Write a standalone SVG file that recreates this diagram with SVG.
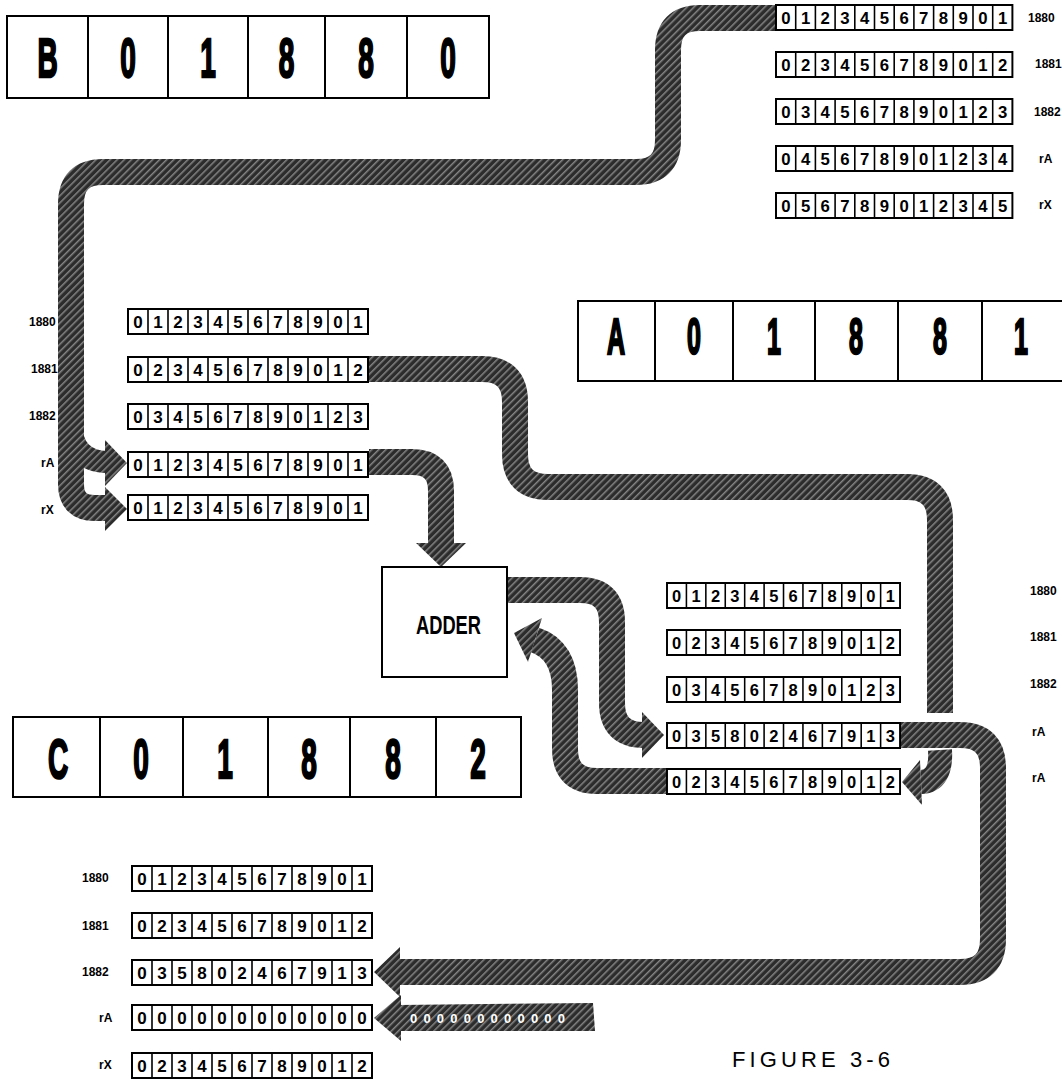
<svg xmlns="http://www.w3.org/2000/svg" width="1062" height="1079" viewBox="0 0 1062 1079">
<style>
.band{fill:none;stroke:url(#h);stroke-width:26}
.ah{fill:url(#h)}
.big{font-family:"Liberation Sans",Arial,sans-serif;font-weight:bold;font-size:56px;text-anchor:middle;stroke:#000;stroke-width:2.5}
.bx{fill:#fff;stroke:#000;stroke-width:2}
.dv{fill:none;stroke:#000;stroke-width:1.6}
.d{font-family:"Liberation Sans",Arial,sans-serif;font-weight:bold;font-size:17px;text-anchor:middle}
.lbl{font-family:"Liberation Sans",Arial,sans-serif;font-weight:bold;font-size:12px}
</style>
<defs>
<pattern id="h" width="5" height="5" patternUnits="userSpaceOnUse" patternTransform="rotate(45)">
<rect width="5" height="5" fill="#2c2c2c"/><rect width="1.5" height="5" fill="#858585"/>
</pattern>
<g id="reg"><rect class="bx" width="240" height="25"/><path class="dv" d="M20 0V25M40 0V25M60 0V25M80 0V25M100 0V25M120 0V25M140 0V25M160 0V25M180 0V25M200 0V25M220 0V25"/></g>
</defs>
<rect width="1062" height="1079" fill="#fff"/>

<g id="connectors">
<path class="band" d="M776,18 H700 Q668,18 668,50 V140 Q668,172 636,172 H103 Q71,172 71,204 V484 Q71,508 95,508 H107"/>
<path class="band" style="stroke-width:22" d="M71,425 Q73,461 107,462"/>
<polygon class="ah" points="105,440 127,463 105,486"/>
<polygon class="ah" points="105,487 127,509 105,531"/>
<path class="band" d="M369,462 H412 Q441,462 441,491 V545"/>
<polygon class="ah" points="416,543 466,543 441,567"/>
<path class="band" d="M369,369 H482 Q515,369 515,402 V454 Q515,487 548,487 H907 Q940,487 940,520 V713"/>
<path class="band" style="stroke-width:24" d="M940,750 Q942,781 921,782"/>
<polygon class="ah" points="920,760 902,782 922,805"/>
<path class="band" d="M507,590 H580 Q612,590 612,622 V703 Q612,735 644,735"/>
<polygon class="ah" points="642,712 664,735 642,758"/>
<path class="band" d="M667,781 H597 Q565,781 565,749 V690 Q565,650 535,640"/>
<polygon class="ah" points="542,618 514,633 528,662"/>
<path class="band" d="M899,735 H960 Q993,735 993,768 V939 Q993,972 960,972 H398"/>
<polygon class="ah" points="400,947 374,972 400,997"/>
<polygon class="ah" points="398,1005 593,1003 595,1031 398,1031"/>
<polygon class="ah" points="401,995 374,1018 401,1041"/>
<text x="410" y="1023" textLength="155" fill="#fff" style="font-family:'Liberation Sans',Arial,sans-serif;font-weight:bold;font-size:13px">000000000000</text>
</g>

<g id="box-B">
<rect class="bx" x="7" y="16" width="482" height="82"/>
<path class="dv" style="stroke-width:2" d="M88 16V98M168 16V98M248 16V98M325 16V98M407 16V98"/>
<text class="big" transform="translate(47.5,77) scale(0.5,1)">B</text>
<text class="big" transform="translate(128,77) scale(0.5,1)">0</text>
<text class="big" transform="translate(208,77) scale(0.5,1)">1</text>
<text class="big" transform="translate(286.5,77) scale(0.5,1)">8</text>
<text class="big" transform="translate(366,77) scale(0.5,1)">8</text>
<text class="big" transform="translate(448,77) scale(0.5,1)">0</text>
</g>

<g id="box-A">
<rect class="bx" x="578" y="301" width="490" height="80"/>
<path class="dv" style="stroke-width:2" d="M655 301V381M733 301V381M815 301V381M898 301V381M982 301V381"/>
<text class="big" style="font-size:50px" transform="translate(616,354) scale(0.5,1)">A</text>
<text class="big" style="font-size:50px" transform="translate(694,354) scale(0.5,1)">0</text>
<text class="big" style="font-size:50px" transform="translate(774,354) scale(0.5,1)">1</text>
<text class="big" style="font-size:50px" transform="translate(856,354) scale(0.5,1)">8</text>
<text class="big" style="font-size:50px" transform="translate(940,354) scale(0.5,1)">8</text>
<text class="big" style="font-size:50px" transform="translate(1021,354) scale(0.5,1)">1</text>
</g>

<g id="box-C">
<rect class="bx" x="13" y="717" width="508" height="80"/>
<path class="dv" style="stroke-width:2" d="M100 717V797M183 717V797M268 717V797M350 717V797M436 717V797"/>
<text class="big" transform="translate(58,778) scale(0.5,1)">C</text>
<text class="big" transform="translate(141,778) scale(0.5,1)">0</text>
<text class="big" transform="translate(225,778) scale(0.5,1)">1</text>
<text class="big" transform="translate(309,778) scale(0.5,1)">8</text>
<text class="big" transform="translate(393,778) scale(0.5,1)">8</text>
<text class="big" transform="translate(478,778) scale(0.5,1)">2</text>
</g>

<g id="adder">
<rect class="bx" x="382" y="567" width="125" height="110"/>
<text x="416" y="634" textLength="65" lengthAdjust="spacingAndGlyphs" style="font-family:'Liberation Sans',Arial,sans-serif;font-weight:bold;font-size:25px">ADDER</text>
</g>

<g id="memory-top-right">
<g transform="translate(776,5) scale(0.985,1)"><use href="#reg"/><text class="d" x="10 30 50 70 90 110 130 150 170 190 210 230" y="19">012345678901</text></g>
<g transform="translate(776,52) scale(0.985,1)"><use href="#reg"/><text class="d" x="10 30 50 70 90 110 130 150 170 190 210 230" y="19">023456789012</text></g>
<g transform="translate(776,99) scale(0.985,1)"><use href="#reg"/><text class="d" x="10 30 50 70 90 110 130 150 170 190 210 230" y="19">034567890123</text></g>
<g transform="translate(776,146) scale(0.985,1)"><use href="#reg"/><text class="d" x="10 30 50 70 90 110 130 150 170 190 210 230" y="19">045678901234</text></g>
<g transform="translate(776,193) scale(0.985,1)"><use href="#reg"/><text class="d" x="10 30 50 70 90 110 130 150 170 190 210 230" y="19">056789012345</text></g>
<text class="lbl" x="1028" y="22">1880</text>
<text class="lbl" x="1035" y="68">1881</text>
<text class="lbl" x="1034" y="116">1882</text>
<text class="lbl" x="1039" y="163">rA</text>
<text class="lbl" x="1039" y="209">rX</text>
</g>

<g id="memory-left">
<g transform="translate(128,309)"><use href="#reg"/><text class="d" x="10 30 50 70 90 110 130 150 170 190 210 230" y="19">012345678901</text></g>
<g transform="translate(128,357)"><use href="#reg"/><text class="d" x="10 30 50 70 90 110 130 150 170 190 210 230" y="19">023456789012</text></g>
<g transform="translate(128,404)"><use href="#reg"/><text class="d" x="10 30 50 70 90 110 130 150 170 190 210 230" y="19">034567890123</text></g>
<g transform="translate(128,452)"><use href="#reg"/><text class="d" x="10 30 50 70 90 110 130 150 170 190 210 230" y="19">012345678901</text></g>
<g transform="translate(128,495)"><use href="#reg"/><text class="d" x="10 30 50 70 90 110 130 150 170 190 210 230" y="19">012345678901</text></g>
<text class="lbl" x="29" y="326">1880</text>
<text class="lbl" x="31" y="373">1881</text>
<text class="lbl" x="29" y="420">1882</text>
<text class="lbl" x="41" y="467">rA</text>
<text class="lbl" x="41" y="514">rX</text>
</g>

<g id="memory-middle">
<g transform="translate(667,583) scale(0.971,1)"><use href="#reg"/><text class="d" x="10 30 50 70 90 110 130 150 170 190 210 230" y="19">012345678901</text></g>
<g transform="translate(667,630) scale(0.971,1)"><use href="#reg"/><text class="d" x="10 30 50 70 90 110 130 150 170 190 210 230" y="19">023456789012</text></g>
<g transform="translate(667,677) scale(0.971,1)"><use href="#reg"/><text class="d" x="10 30 50 70 90 110 130 150 170 190 210 230" y="19">034567890123</text></g>
<g transform="translate(667,723) scale(0.971,1)"><use href="#reg"/><text class="d" x="10 30 50 70 90 110 130 150 170 190 210 230" y="19">035802467913</text></g>
<g transform="translate(667,769) scale(0.971,1)"><use href="#reg"/><text class="d" x="10 30 50 70 90 110 130 150 170 190 210 230" y="19">023456789012</text></g>
<text class="lbl" x="1030" y="595">1880</text>
<text class="lbl" x="1030" y="641">1881</text>
<text class="lbl" x="1030" y="688">1882</text>
<text class="lbl" x="1032" y="736">rA</text>
<text class="lbl" x="1032" y="782">rA</text>
</g>

<g id="memory-bottom">
<g transform="translate(132,866)"><use href="#reg"/><text class="d" x="10 30 50 70 90 110 130 150 170 190 210 230" y="19">012345678901</text></g>
<g transform="translate(132,913)"><use href="#reg"/><text class="d" x="10 30 50 70 90 110 130 150 170 190 210 230" y="19">023456789012</text></g>
<g transform="translate(132,960)"><use href="#reg"/><text class="d" x="10 30 50 70 90 110 130 150 170 190 210 230" y="19">035802467913</text></g>
<g transform="translate(132,1005)"><use href="#reg"/><text class="d" x="10 30 50 70 90 110 130 150 170 190 210 230" y="19">000000000000</text></g>
<g transform="translate(132,1053)"><use href="#reg"/><text class="d" x="10 30 50 70 90 110 130 150 170 190 210 230" y="19">023456789012</text></g>
<text class="lbl" x="82" y="882">1880</text>
<text class="lbl" x="82" y="930">1881</text>
<text class="lbl" x="82" y="976">1882</text>
<text class="lbl" x="99" y="1022">rA</text>
<text class="lbl" x="99" y="1069">rX</text>
</g>

<g id="caption">
<text x="732" y="1067" textLength="158" style="font-family:'Liberation Sans',Arial,sans-serif;font-size:22px">FIGURE 3-6</text>
</g>
</svg>
